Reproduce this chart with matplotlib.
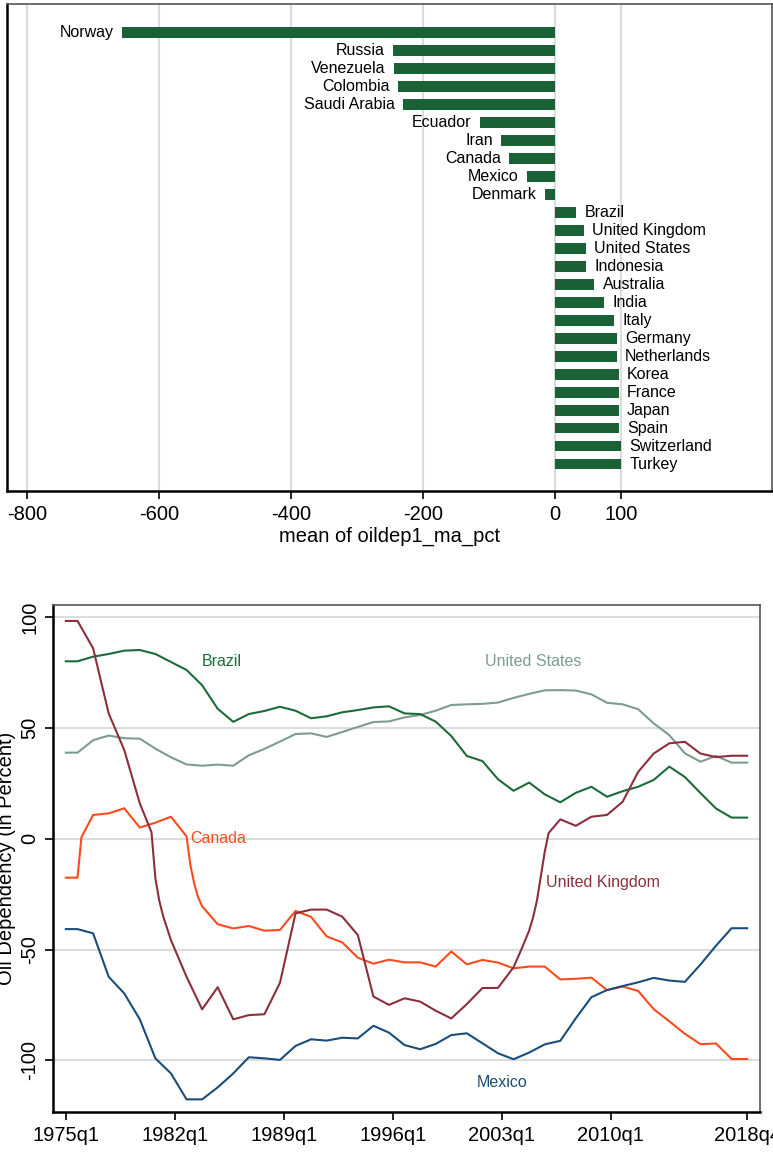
import numpy as np
import matplotlib
matplotlib.use('Agg')
import matplotlib.pyplot as plt

plt.rcParams['font.family'] = ['Liberation Sans', 'DejaVu Sans']

# top panel: mean of oildep1_ma_pct by country
countries = ['Norway', 'Russia', 'Venezuela', 'Colombia', 'Saudi Arabia', 'Ecuador', 'Iran', 'Canada',
             'Mexico', 'Denmark', 'Brazil', 'United Kingdom', 'United States', 'Indonesia', 'Australia',
             'India', 'Italy', 'Germany', 'Netherlands', 'Korea', 'France', 'Japan', 'Spain',
             'Switzerland', 'Turkey']
mean_dep = [-656, -245, -244, -238, -230, -114, -81, -69, -42, -15, 32, 44, 47, 47, 60,
            75, 90, 94, 94, 97, 97, 97, 97.5, 100, 100]
bar_ticks = [-800, -600, -400, -200, 0, 100]

# bottom panel: quarters since 1975q1, one point per year (q4) plus a few extra quarters
t_brazil = [0] + list(range(3, 176, 4))
brazil = [80.0, 80.0, 82.1, 83.3, 84.8, 85.1, 83.3, 79.7, 76.1, 69.2, 58.6, 52.7, 56.2, 57.6, 59.5,
          57.7, 54.3, 55.2, 57.0, 58.0, 59.2, 59.7, 56.5, 56.2, 52.8, 46.3, 37.3, 35.0, 26.8, 21.6,
          25.3, 20.0, 16.4, 20.7, 23.4, 18.9, 21.4, 23.4, 26.5, 32.5, 27.8, 20.6, 13.6, 9.5, 9.5]
t_us = t_brazil
us = [38.8, 38.8, 44.4, 46.5, 45.3, 45.1, 40.6, 36.7, 33.5, 32.9, 33.4, 32.9, 37.6, 40.5, 43.8,
      47.2, 47.5, 45.9, 48.1, 50.4, 52.6, 52.9, 54.7, 55.8, 57.7, 60.3, 60.6, 60.8, 61.4, 63.5,
      65.3, 66.9, 67.0, 66.8, 65.1, 61.3, 60.6, 58.4, 52.0, 46.7, 38.5, 34.7, 37.3, 34.3, 34.3]
t_mexico = t_brazil
mexico = [-40.8, -40.8, -42.7, -62.3, -69.8, -81.5, -99.1, -105.9, -117.6, -117.6, -112.2, -105.9,
          -98.6, -99.1, -99.8, -93.5, -90.5, -91.1, -89.8, -90.1, -84.4, -87.5, -93.1, -95.0, -92.6,
          -88.6, -87.8, -92.3, -96.8, -99.5, -96.5, -92.8, -91.2, -81.0, -71.5, -68.3, -66.5, -64.8,
          -62.8, -64.0, -64.6, -56.8, -48.3, -40.4, -40.4]
t_canada = [0, 3, 4, 7, 11, 15, 19, 23, 27, 31, 32, 33, 34, 35] + list(range(39, 176, 4))
canada = [-17.6, -17.6, 0.6, 10.7, 11.4, 13.7, 5.0, 7.2, 9.9, 1.0, -12.0, -20.5, -26.5, -30.5,
          -38.6, -40.5, -39.4, -41.5, -41.2, -32.6, -35.3, -44.1, -46.8, -53.7, -56.4, -54.6, -55.8,
          -55.8, -57.7, -50.9, -56.7, -54.7, -55.9, -58.5, -57.7, -57.7, -63.5, -63.2, -62.7, -68.3,
          -66.7, -68.7, -76.9, -82.4, -88.0, -92.7, -92.4, -99.4, -99.4]
t_uk = ([0, 3, 7, 11, 15, 19, 22, 23, 24, 25, 27] + list(range(31, 116, 4))
        + [117, 119, 120, 121, 122, 123, 124] + list(range(127, 176, 4)))
uk = [98.2, 98.2, 85.9, 56.5, 40.0, 15.9, 2.9, -18.0, -28.0, -35.0, -45.8,
      -62.3, -77.0, -67.0, -81.5, -79.6, -79.2, -65.0, -33.7, -32.0, -32.0, -35.2, -43.5, -71.2,
      -75.0, -72.0, -73.5, -77.6, -81.1, -74.6, -67.4, -67.3, -58.0,
      -50.0, -41.5, -35.6, -28.0, -17.0, -6.0, 2.5,
      8.7, 5.8, 9.9, 10.7, 16.6, 30.1, 38.4, 43.0, 43.7, 38.4, 36.8, 37.4, 37.4]
q_ticks = [0, 28, 56, 84, 112, 140, 175]
q_labels = ['1975q1', '1982q1', '1989q1', '1996q1', '2003q1', '2010q1', '2018q4']
dep_ticks = [100, 50, 0, -50, -100]

green = '#1a6136'
grid_c = '#dcdcdc'

fig = plt.figure(figsize=(7.73, 11.52), dpi=100)

# ---- top: horizontal bars
ax1 = fig.add_axes([7/773, 661/1152, 765/773, 487/1152])
pos = np.arange(len(countries))
ax1.barh(pos, mean_dep, height=0.6, color=green, zorder=3)
for i, (name, v) in enumerate(zip(countries, mean_dep)):
    if v < 0:
        ax1.annotate(name, (v, i), xytext=(-6, 0), textcoords='offset points',
                     ha='right', va='center', fontsize=11.5)
    else:
        ax1.annotate(name, (v, i), xytext=(6, 0), textcoords='offset points',
                     ha='left', va='center', fontsize=11.5)
ax1.set_xlim(-830, 329)
ax1.set_ylim(25.5, -1.6)
ax1.set_yticks([])
ax1.set_xticks(bar_ticks)
ax1.set_xticklabels([str(v) for v in bar_ticks], fontsize=14.5)
ax1.set_xlabel('mean of oildep1_ma_pct', fontsize=14.5, labelpad=2)
ax1.grid(axis='x', color=grid_c, linewidth=1.5, zorder=0)
ax1.tick_params(axis='x', length=6, width=1.2, pad=4)

# ---- bottom: lines over time
ax2 = fig.add_axes([53/773, 40/1152, 707/773, 507/1152])
ax2.plot(t_us, us, color='#7d9c8e', lw=1.5, zorder=3)
ax2.plot(t_brazil, brazil, color='#1d6a3a', lw=1.5, zorder=3)
ax2.plot(t_canada, canada, color='#fb4b1e', lw=1.5, zorder=3)
ax2.plot(t_uk, uk, color='#8c2f3c', lw=1.5, zorder=3)
ax2.plot(t_mexico, mexico, color='#1a4e78', lw=1.5, zorder=3)

ax2.text(40, 79.7, 'Brazil', color='#1d6a3a', fontsize=11.5, ha='center', va='center')
ax2.text(120, 79.7, 'United States', color='#7d9c8e', fontsize=11.5, ha='center', va='center')
ax2.text(31.9, 0, 'Canada', color='#fb4b1e', fontsize=11.5, ha='left', va='center')
ax2.text(123.3, -20, 'United Kingdom', color='#8c2f3c', fontsize=11.5, ha='left', va='center')
ax2.text(112, -109.8, 'Mexico', color='#1a4e78', fontsize=11.5, ha='center', va='center')

ax2.set_xlim(-3.3, 178.3)
ax2.set_ylim(-123.3, 105.4)
ax2.set_xticks(q_ticks)
ax2.set_xticklabels(q_labels, fontsize=14.5)
ax2.set_yticks(dep_ticks)
ax2.set_yticklabels([str(v) for v in dep_ticks], fontsize=14.5, rotation=90, va='center')
ax2.set_ylabel('Oil Dependency (in Percent)', fontsize=14.5)
ax2.yaxis.set_label_coords(-0.052, 0.5)
ax2.grid(axis='y', color=grid_c, linewidth=1.5, zorder=0)
ax2.tick_params(length=6, width=1.2, pad=4)

for ax in (ax1, ax2):
    ax.spines['left'].set_linewidth(1.8)
    ax.spines['bottom'].set_linewidth(1.8)
    ax.spines['top'].set_color('#555555')
    ax.spines['right'].set_color('#555555')
    ax.spines['top'].set_linewidth(1.2)
    ax.spines['right'].set_linewidth(1.2)

fig.savefig('out.png', dpi=100)
